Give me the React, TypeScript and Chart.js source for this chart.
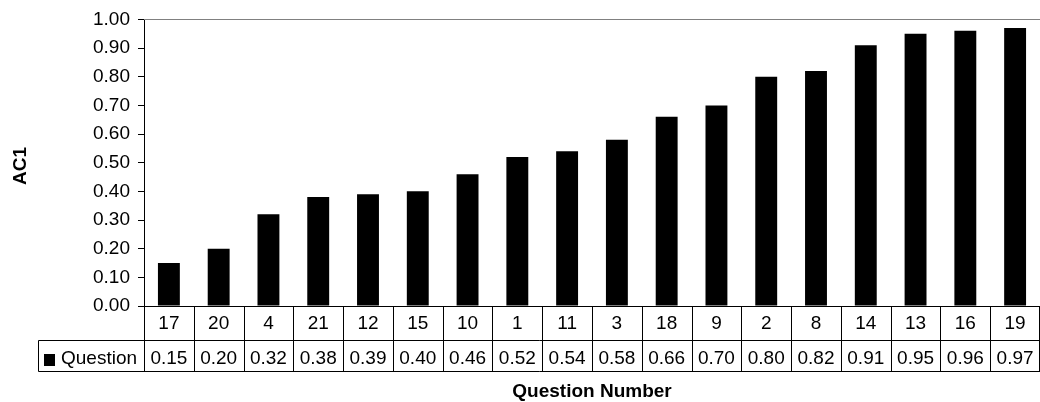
import React, { useEffect, useRef } from "react";
import { Chart, registerables } from "chart.js";

Chart.register(...registerables);

const categories = ["17", "20", "4", "21", "12", "15", "10", "1", "11", "3", "18", "9", "2", "8", "14", "13", "16", "19"];
const values = [0.15, 0.2, 0.32, 0.38, 0.39, 0.4, 0.46, 0.52, 0.54, 0.58, 0.66, 0.7, 0.8, 0.82, 0.91, 0.95, 0.96, 0.97];
const seriesName = "Question";
const yTitle = "AC1";
const xTitle = "Question Number";

const FONT = "'Liberation Sans', Arial, sans-serif";
const FS = 19;

const tablePlugin = {
  id: "dataTable",
  afterDraw(chart: any) {
    const ctx = chart.ctx;
    const area = chart.chartArea;
    const xs = chart.scales.x;
    const n = categories.length;
    const left = area.left;
    const right = area.right;
    const cw = (right - left) / n;
    const y0 = Math.round(area.bottom) + 0.5;
    const y1 = 340.5;
    const y2 = 371.5;
    const legL = 38.5;
    ctx.save();
    // top border of plot area
    ctx.strokeStyle = "#808080";
    ctx.lineWidth = 1;
    ctx.beginPath();
    ctx.moveTo(left, Math.round(area.top) + 0.5);
    ctx.lineTo(right, Math.round(area.top) + 0.5);
    ctx.stroke();
    // table lines
    ctx.strokeStyle = "#000";
    ctx.beginPath();
    ctx.moveTo(left, y0);
    ctx.lineTo(right, y0);
    ctx.moveTo(legL, y1);
    ctx.lineTo(right, y1);
    ctx.moveTo(legL, y2);
    ctx.lineTo(right, y2);
    ctx.moveTo(legL, y1);
    ctx.lineTo(legL, y2);
    for (let i = 0; i <= n; i++) {
      let bx = i < n ? xs.getPixelForValue(i) - cw / 2 : right;
      bx = Math.min(Math.round(bx) + 0.5, 1039.5);
      ctx.moveTo(bx, y0 - 0.5);
      ctx.lineTo(bx, y2 + 0.5);
    }
    ctx.stroke();
    // texts
    ctx.fillStyle = "#000";
    ctx.font = `${FS}px ${FONT}`;
    ctx.textAlign = "center";
    ctx.textBaseline = "alphabetic";
    for (let i = 0; i < n; i++) {
      const cx = xs.getPixelForValue(i);
      ctx.fillText(categories[i], cx, 329);
      ctx.fillText(values[i].toFixed(2), cx, 364);
    }
    // legend key
    ctx.fillRect(44, 354, 11, 12);
    ctx.textAlign = "left";
    ctx.fillText(seriesName, 61, 364);
    // x title
    ctx.font = `bold ${FS}px ${FONT}`;
    ctx.textAlign = "center";
    ctx.fillText(xTitle, (left + right) / 2, 397);
    // y title
    ctx.translate(25.5, 166);
    ctx.rotate(-Math.PI / 2);
    ctx.fillText(yTitle, 0, 0);
    ctx.restore();
  },
};

export default function App() {
  const ref = useRef<HTMLCanvasElement | null>(null);
  useEffect(() => {
    if (!ref.current) return;
    const chart = new Chart(ref.current, {
      type: "bar",
      data: {
        labels: categories,
        datasets: [
          {
            label: seriesName,
            data: values,
            backgroundColor: "#000",
            borderWidth: 0,
            barPercentage: 0.44,
            categoryPercentage: 1,
          },
        ],
      },
      options: {
        animation: false,
        responsive: false,
        maintainAspectRatio: false,
        devicePixelRatio: 1,
        layout: { padding: { top: 18, bottom: 96, left: 0, right: 0 } },
        plugins: { legend: { display: false }, tooltip: { enabled: false }, title: { display: false } },
        scales: {
          x: { display: false },
          y: {
            min: 0,
            max: 1,
            afterFit: (scale: any) => {
              scale.width = 144;
            },
            ticks: {
              stepSize: 0.1,
              padding: 8,
              color: "#000",
              font: { family: FONT, size: FS },
              callback: (v: any) => Number(v).toFixed(2),
            },
            grid: { drawOnChartArea: false, drawTicks: true, tickLength: 6, color: "#000" },
            border: { color: "#000", width: 1 },
          },
        },
      },
      plugins: [tablePlugin],
    });
    return () => chart.destroy();
  }, []);
  return (
    <div style={{ position: "absolute", left: 0, top: 0, width: 1040, height: 402, background: "#fff" }}>
      <canvas ref={ref} width={1040} height={402} style={{ width: 1040, height: 402 }} />
    </div>
  );
}
